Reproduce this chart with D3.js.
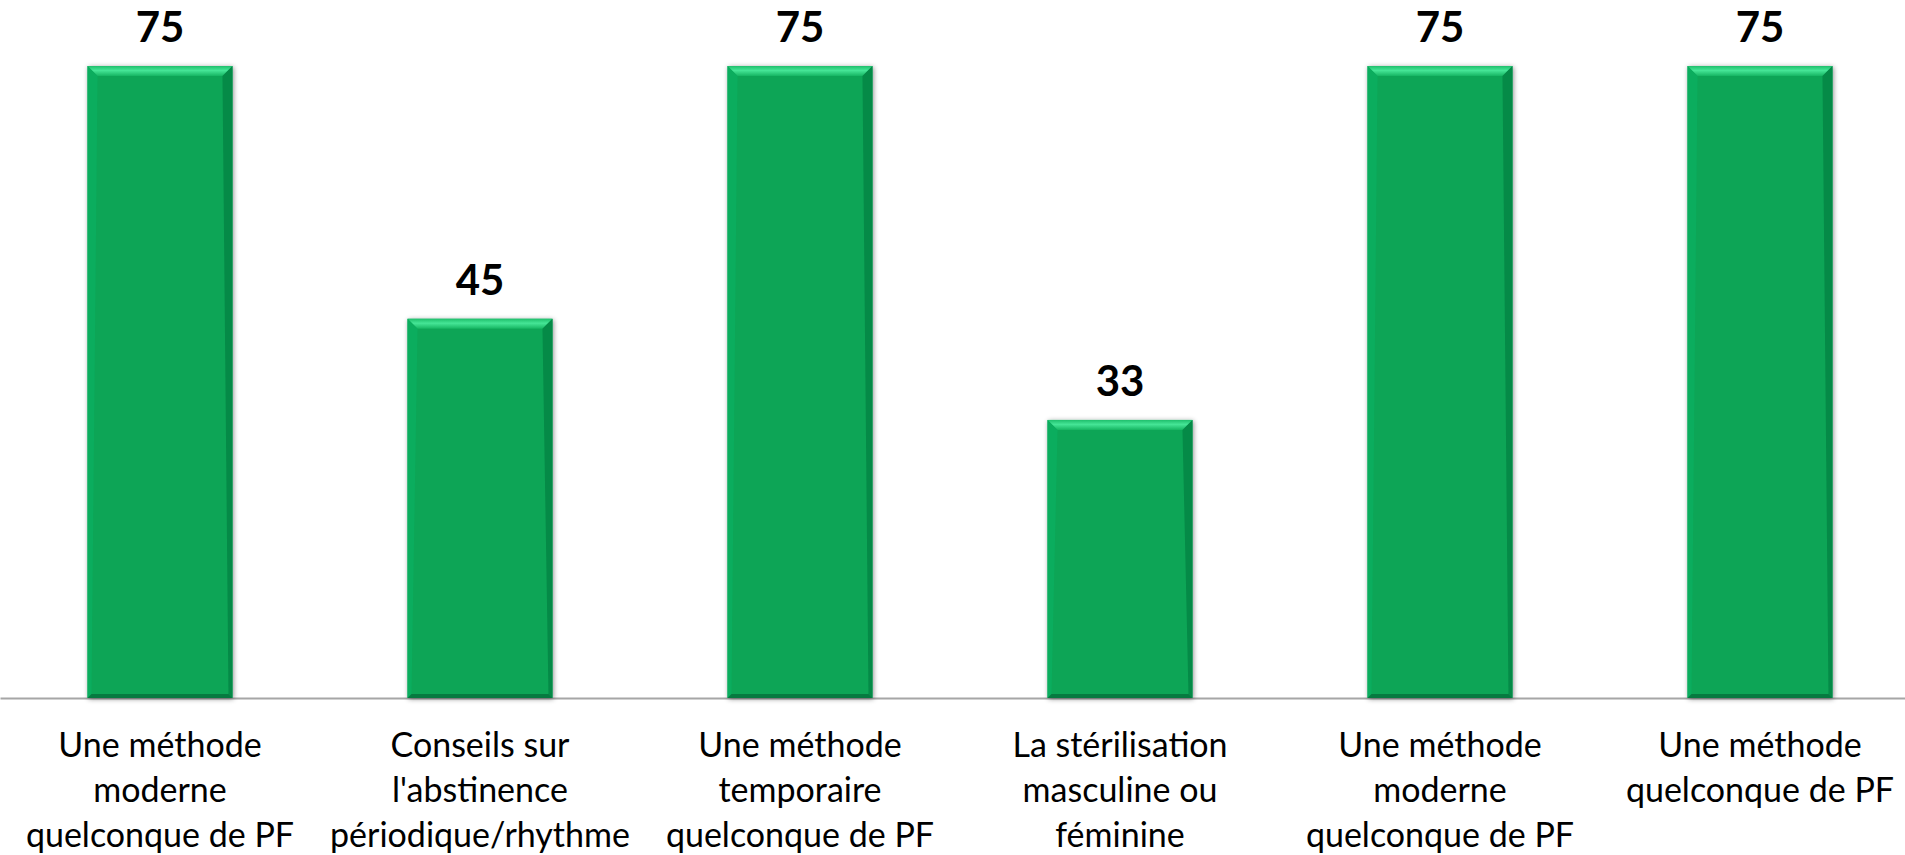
<!DOCTYPE html>
<html>
<head>
<meta charset="utf-8">
<script src="https://cdn.jsdelivr.net/npm/d3@7"></script>
<style>
  html, body { margin: 0; padding: 0; background: #fff; }
  svg { display: block; }
</style>
</head>
<body>
<div id="chart"></div>
<script>
// Data
const categories = ["moderne1", "abstinence", "temporaire", "sterilisation", "moderne2", "quelconque"];
const labelLines = [
    ["Une méthode", "moderne", "quelconque de PF"],
    ["Conseils sur", "l'abstinence", "périodique/rhythme"],
    ["Une méthode", "temporaire", "quelconque de PF"],
    ["La stérilisation", "masculine ou", "féminine"],
    ["Une méthode", "moderne", "quelconque de PF"],
    ["Une méthode", "quelconque de PF"]
];
const values = [75, 45, 75, 33, 75, 75];

const width = 1905,
    height = 855,
    baseY = 698;

const svg = d3.select("#chart")
    .append("svg")
    .attr("width", width)
    .attr("height", height);

const defs = svg.append("defs");

// soft drop shadow behind the bars
const shadow = defs.append("filter")
    .attr("id", "shadow")
    .attr("x", "-20%").attr("y", "-5%")
    .attr("width", "140%").attr("height", "110%");
shadow.append("feDropShadow")
    .attr("dx", 1).attr("dy", 1)
    .attr("stdDeviation", 2.5)
    .attr("flood-color", "#000")
    .attr("flood-opacity", 0.45);

const topGrad = defs.append("linearGradient")
    .attr("id", "topBevel")
    .attr("x1", 0).attr("y1", 0).attr("x2", 0).attr("y2", 1);
topGrad.append("stop").attr("offset", "0%").attr("stop-color", "#1fbf6c");
topGrad.append("stop").attr("offset", "45%").attr("stop-color", "#45e596");
topGrad.append("stop").attr("offset", "100%").attr("stop-color", "#16b562");

const x = d3.scaleBand()
    .domain(categories)
    .range([0, 1920])
    .paddingInner(0.547)
    .paddingOuter(0.2735);

const y = d3.scaleLinear()
    .domain([0, 75])
    .range([baseY, 66]);

// x axis line + labels
const axis = svg.append("g")
    .attr("transform", `translate(0, ${baseY})`)
    .call(d3.axisBottom(x).tickSize(0).tickSizeOuter(0).tickFormat(""));

axis.select(".domain")
    .attr("stroke", "#a6a6a6")
    .attr("stroke-width", 2);

axis.selectAll(".tick text").remove();

const labels = svg.append("g");
categories.forEach((c, i) => {
    const t = labels.append("text")
        .attr("x", x(c) + x.bandwidth() / 2)
        .attr("y", 757)
        .attr("text-anchor", "middle")
        .attr("font-family", "Lato, 'Open Sans', sans-serif")
        .attr("font-size", "34px")
        .attr("fill", "#000");
    labelLines[i].forEach((line, j) => {
        t.append("tspan")
            .attr("x", x(c) + x.bandwidth() / 2)
            .attr("dy", j === 0 ? 0 : 45)
            .text(line);
    });
});

// bars
const bevel = 10;
const bars = svg.append("g")
    .selectAll("g")
    .data(categories.map((c, i) => ({ c, v: values[i] })))
    .join("g");

bars.append("rect")
    .attr("x", d => x(d.c))
    .attr("y", d => y(d.v))
    .attr("width", x.bandwidth())
    .attr("height", d => baseY - y(d.v))
    .attr("fill", "#07a557")
    .attr("filter", "url(#shadow)");

// top bevel
bars.append("polygon")
    .attr("points", d => {
        const x0 = x(d.c), x1 = x0 + x.bandwidth(), y0 = y(d.v);
        return `${x0},${y0} ${x1},${y0} ${x1 - bevel},${y0 + bevel} ${x0 + bevel},${y0 + bevel}`;
    })
    .attr("fill", "url(#topBevel)");

// right bevel (darker)
bars.append("polygon")
    .attr("points", d => {
        const x0 = x(d.c), x1 = x0 + x.bandwidth(), y0 = y(d.v);
        return `${x1},${y0} ${x1},${baseY} ${x1 - 4},${baseY - 4} ${x1 - bevel},${y0 + bevel}`;
    })
    .attr("fill", "#058a47");

// left bevel (slightly lighter)
bars.append("polygon")
    .attr("points", d => {
        const x0 = x(d.c), y0 = y(d.v);
        return `${x0},${y0} ${x0 + bevel},${y0 + bevel} ${x0 + 4},${baseY - 4} ${x0},${baseY}`;
    })
    .attr("fill", "#0bad5e");

// bottom bevel (dark)
bars.append("polygon")
    .attr("points", d => {
        const x0 = x(d.c), x1 = x0 + x.bandwidth();
        return `${x0},${baseY} ${x1},${baseY} ${x1 - 4},${baseY - 4} ${x0 + 4},${baseY - 4}`;
    })
    .attr("fill", "#067a40");

// value labels
svg.append("g")
    .selectAll("text")
    .data(categories.map((c, i) => ({ c, v: values[i] })))
    .join("text")
    .attr("x", d => x(d.c) + x.bandwidth() / 2)
    .attr("y", d => y(d.v) - 24)
    .attr("text-anchor", "middle")
    .attr("font-family", "Lato, 'Open Sans', sans-serif")
    .attr("font-weight", "bold")
    .attr("font-size", "42px")
    .attr("fill", "#000")
    .text(d => d.v);
</script>
</body>
</html>
